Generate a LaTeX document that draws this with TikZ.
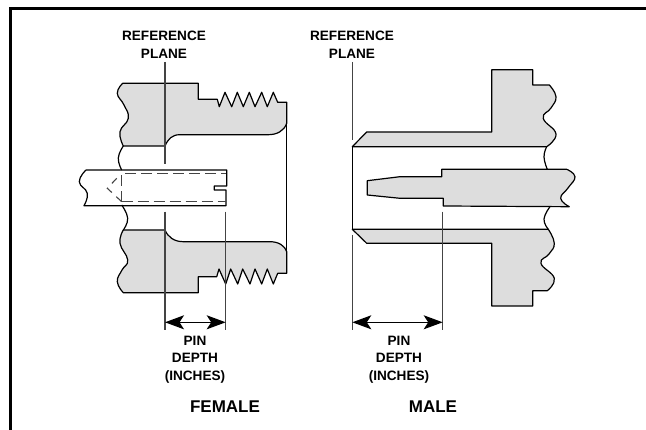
\documentclass[tikz,border=0pt]{standalone}
\usepackage{fontspec}
\setmainfont{Liberation Sans}
\usetikzlibrary{arrows.meta}
\definecolor{bodygray}{HTML}{DDDDDD}
\definecolor{planegray}{HTML}{444444}

\begin{document}
\begin{tikzpicture}[x=1pt,y=-1pt,>={Stealth[length=19pt,width=14pt,inset=4.5pt]},
                    body/.style={draw=black,fill=bodygray,line width=1.2pt,line join=round},
                    outline/.style={draw=black,line width=1.2pt,line join=round},
                    plane/.style={draw=planegray,line width=1.1pt},
                    hidden/.style={draw=planegray,line width=1.1pt,dash pattern=on 11pt off 5pt},
                    dimen/.style={<->,draw=black,line width=1.2pt},
                    lbl/.style={align=center,inner sep=0pt,font=\bfseries\fontsize{13.6}{17.6}\selectfont},
                    title/.style={inner sep=0pt,font=\bfseries\fontsize{17}{18}\selectfont}]
  \useasboundingbox (0,0) rectangle (646,430);

  % frame
  \draw[line width=3pt] (10.5,432) -- (10.5,8.5) -- (648,8.5);

  % female, upper body
  \path[body] (122.7,83.3) -- (198.3,83.3) -- (198.3,99.3) -- (217.3,99.3)
        -- (219.3,106.7) -- (225,92.3) -- (231.7,106.7) -- (237.3,92.3)
        -- (243.3,106.7) -- (249.3,92.3) -- (255,106.7) -- (261.7,92.3)
        -- (267.3,106.7) -- (273.3,92.3) -- (277.7,102.3) -- (286.7,102.3)
        -- (286.7,123.3) .. controls (284,131) and (277,134.7) .. (268.3,134.7)
        -- (180,134.7) .. controls (172,134.7) and (168,139) .. (165,146)
        -- plot[smooth,tension=.8] coordinates {(123.3,146) (120,131.7) (128.3,118.3) (124,105) (117.3,93.3) (122.7,83.3)}
        -- cycle;
  % female, lower body
  \path[body] (123.3,230) -- (165,230) .. controls (168,237) and (174,241.7) .. (183.3,241.7)
        -- (270,241.7) .. controls (279,241.7) and (285,246) .. (286.7,251.7)
        -- (286.7,273.3) -- (277.7,273.3) -- (273.3,284) -- (267.3,269)
        -- (261.7,284) -- (255,269) -- (250,284) -- (242.7,269)
        -- (237.7,284) -- (230.7,269) -- (225.7,284) -- (219,269) -- (216.7,276.7)
        -- (198.3,276.7) -- (198.3,292.7)
        -- plot[smooth,tension=.8] coordinates {(123.3,292.7) (117.3,281.7) (122,270) (127.7,260) (120,243.3) (123.3,230)}
        -- cycle;
  \draw[outline] (286.7,123.3) -- (286.7,273.3);
  % female, breaks
  \draw[outline] plot[smooth,tension=.8] coordinates {(123.3,146) (118.3,158) (121.7,170)};
  \draw[outline] plot[smooth,tension=.8] coordinates {(121.7,205) (127.7,218.3) (123.3,230)};

  % female, pin
  \draw[outline] (86,170) -- (226.7,170) -- (226.7,186) -- (214.3,186) -- (214.3,190)
        -- (226,190) -- (226,205.7)
        -- plot[smooth,tension=.8] coordinates {(84,205.7) (87.3,193.3) (79.3,181.7) (86,170)};
  \draw[hidden] (121.7,201.7) -- (121.7,173.3) -- (225.7,173.3);
  \draw[hidden] (121.7,201.7) -- (225.7,201.7);
  \draw[planegray,line width=1.1pt,dash pattern=on 7pt off 6pt] (116.7,178.3) -- (107.3,188.3) -- (121.7,201.7);

  % male, upper body
  \path[body] (352.3,146.7) -- (366.7,132) -- (491.7,132) -- (491.7,69.7) -- (532.7,69.7)
        -- (532.7,85)
        -- plot[smooth,tension=.8] coordinates {(549.3,85) (556,96.7) (551,108) (543.3,118.3) (556,134) (546.7,146.7)}
        -- cycle;
  % male, lower body
  \path[body] (352.3,229.3)
        -- plot[smooth,tension=.8] coordinates {(548.3,229.3) (554.3,243.3) (549,254) (541,263.3) (554.3,278.3) (547.3,290.7)}
        -- (532.7,290.7) -- (532.7,306) -- (491.7,306) -- (491.7,243.3) -- (366.7,243.3) -- cycle;
  % male, pin
  \path[body] (367.3,180.7) -- (400,176.7) -- (441.7,176.7) -- (441.7,169.3)
        -- plot[smooth,tension=.8] coordinates {(566.7,169.3) (575,176.7) (568,188) (560.7,198.3) (569.3,206.7)}
        -- (443.3,206) -- (443.3,198.3) -- (400,198.3) -- (367.3,195) -- cycle;
  % male, breaks
  \draw[outline] plot[smooth,tension=.8] coordinates {(546.7,146.7) (544,157) (547.3,169.3)};
  \draw[outline] plot[smooth,tension=.8] coordinates {(550,206.7) (544,219) (548.3,229.3)};

  % reference planes and depth marks
  \coordinate (ftop)  at (165,62);
  \coordinate (fmid)  at (165,164.5);
  \coordinate (flow)  at (165,211.7);
  \coordinate (fbase) at (165,330);
  \coordinate (fpin)  at (225.7,211.7);
  \coordinate (fend)  at (225.7,330);
  \coordinate (mtop)  at (352.3,62);
  \coordinate (mmid)  at (352.3,140);
  \coordinate (mlow)  at (352.3,146.7);
  \coordinate (mbot)  at (352.3,229.3);
  \coordinate (mgap)  at (352.3,235);
  \coordinate (mbase) at (352.3,330);
  \coordinate (mpin)  at (442.7,211.7);
  \coordinate (mend)  at (442.7,330);
  \coordinate (fl)    at (165,322.3);
  \coordinate (fr)    at (225.7,322.3);
  \coordinate (ml)    at (352.3,322.3);
  \coordinate (mr)    at (442.7,322.3);

  \path[plane] (ftop) edge (fmid)
        (flow) edge (fbase)
        (fpin) edge (fend)
        (mtop) edge (mmid)
        (mgap) edge (mbase)
        (mpin) edge (mend);
  \draw[outline] (mlow) -- (mbot);
  \draw[dimen] (fl) -- (fr);
  \draw[dimen] (ml) -- (mr);

  % labels
  \node[lbl] (refl)  at (164,45)  {REFERENCE\\PLANE};
  \node[lbl] (refr)  at (352,45)  {REFERENCE\\PLANE};
  \node[lbl] (depl)  at (195,359.5) {PIN\\DEPTH\\(INCHES)};
  \node[lbl] (depr)  at (399,359.5) {PIN\\DEPTH\\(INCHES)};
  \node[title] (fem)  at (225,407) {FEMALE};
  \node[title] (male) at (433,407) {MALE};
\end{tikzpicture}
\end{document}
